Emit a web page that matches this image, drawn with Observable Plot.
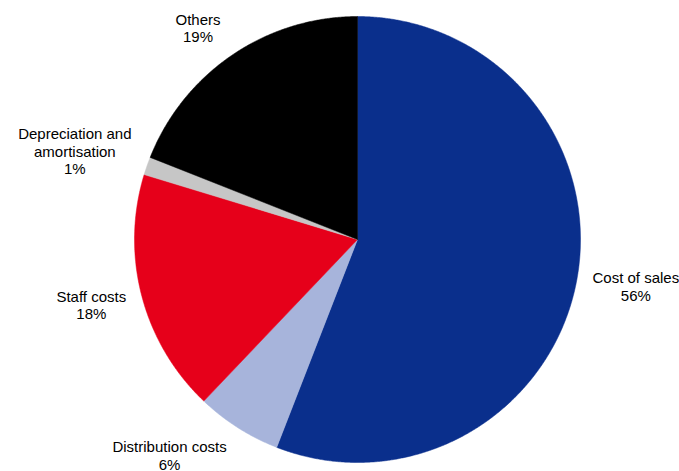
<!DOCTYPE html>
<html><head><meta charset="utf-8">
<script src="https://cdn.jsdelivr.net/npm/d3@7"></script>
<script src="https://cdn.jsdelivr.net/npm/@observablehq/plot@0.6"></script>
<style>body{margin:0;background:#fff;overflow:hidden}</style>
</head><body><div id="chart"></div>
<script>
// Data (clockwise from 12 o'clock)
const categories = ["Cost of sales", "Distribution costs", "Staff costs", "Depreciation and\namortisation", "Others"];
const values = [55.9, 6.2, 17.6, 1.3, 19.0];
const colors = ["#0A2F8C", "#A7B4DB", "#E6001A", "#C6C6C6", "#000000"];

// Layout
const W = 679, H = 471, CX = 357, CY = 239, R = 223;
const FS = 15, LH = 17.5;
const FONT_FAMILY = '"Liberation Sans", Arial, sans-serif';

const data = categories.map((c, i) => ({name: c, value: values[i], color: colors[i]}));
const arcs = d3.pie().sort(null).value(d => d.value)(data);

const marks = [];
arcs.forEach(a => {
  const pts = [{x: 0, y: 0}];
  const n = Math.max(2, Math.ceil((a.endAngle - a.startAngle) / 0.005));
  for (let k = 0; k <= n; k++) {
    const t = a.startAngle + (a.endAngle - a.startAngle) * k / n;
    pts.push({x: Math.sin(t), y: Math.cos(t)});
  }
  pts.push({x: 0, y: 0});
  marks.push(Plot.line(pts, {x: "x", y: "y", fill: a.data.color, stroke: a.data.color, strokeWidth: 0.5, curve: "linear"}));
});

const ctx = document.createElement("canvas").getContext("2d");
ctx.font = FS + "px " + FONT_FAMILY;
const labels = arcs.map(a => {
  const m = (a.startAngle + a.endAngle) / 2;
  const dx = Math.sin(m), dy = -Math.cos(m);
  const text = a.data.name + "\n" + Math.round(a.data.value) + "%";
  const lines = text.split("\n");
  const w = Math.max(...lines.map(l => ctx.measureText(l).width));
  const h = lines.length * LH;
  const px = CX + (R + 10) * dx + Math.sign(dx) * (w / 2 + 6);
  const py = CY + (R + 10) * dy + dy * h / 2 * 1.3;
  return {text, x: (px - CX) / R, y: (CY - py) / R};
});

marks.push(Plot.text(labels, {
  x: "x", y: "y", text: "text",
  fontSize: FS, lineHeight: LH / FS, fill: "#000",
  textAnchor: "middle", lineAnchor: "middle", fontFamily: FONT_FAMILY
}));

const chart = Plot.plot({
  width: W, height: H,
  margin: 0,
  style: {fontFamily: FONT_FAMILY, background: "#fff"},
  x: {domain: [-1, 1], range: [CX - R, CX + R], axis: null},
  y: {domain: [-1, 1], range: [CY + R, CY - R], axis: null},
  marks
});
document.getElementById("chart").appendChild(chart);
</script>
</body></html>
